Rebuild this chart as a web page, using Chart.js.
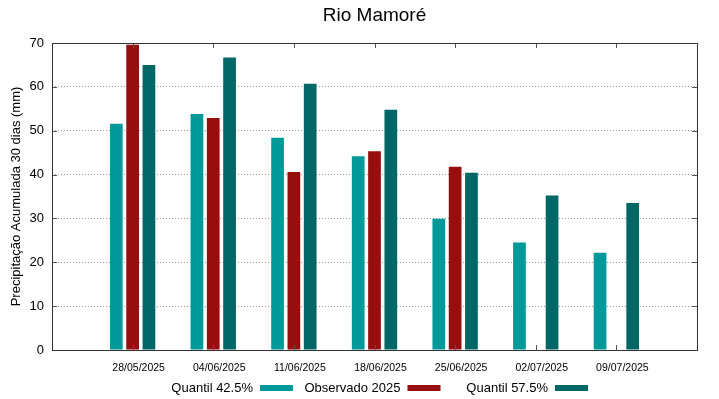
<!DOCTYPE html>
<html>
<head>
<meta charset="utf-8">
<title>Rio Mamoré</title>
<script src="https://cdn.jsdelivr.net/npm/chart.js@4/dist/chart.umd.min.js"></script>
<style>
  html, body { margin: 0; padding: 0; background: #fff; }
  canvas { display: block; }
</style>
</head>
<body>
<canvas id="grafico" width="719" height="399"></canvas>
<script>
// datos
const fechas = ["28/05/2025", "04/06/2025", "11/06/2025", "18/06/2025", "25/06/2025", "02/07/2025", "09/07/2025"];
const quantil425 = [51.6, 53.8, 48.4, 44.2, 29.9, 24.5, 22.2];
const observado2025 = [69.6, 52.9, 40.6, 45.3, 41.8, null, null];
const quantil575 = [65.0, 66.7, 60.7, 54.8, 40.4, 35.2, 33.5];
const yTicks = [0, 10, 20, 30, 40, 50, 60, 70];

// una casilla vacia a cada lado, como el rango [-1:7] del original
const pad = arr => [null, ...arr, null];
const etiquetas = ["", ...fechas, ""];

const FONT = "'Liberation Sans', Arial, sans-serif";

const marco = {
  id: "marco",
  afterDraw(chart) {
    const ctx = chart.ctx;
    const a = chart.chartArea;
    const x = chart.scales.x, y = chart.scales.y;
    ctx.save();

    // ticks hacia dentro
    ctx.strokeStyle = "#555";
    ctx.lineWidth = 1;
    for (let i = 1; i <= fechas.length; i++) {
      const px = Math.round(x.getPixelForTick(i)) + 0.5;
      ctx.beginPath();
      ctx.moveTo(px, a.top); ctx.lineTo(px, a.top + 5);
      ctx.moveTo(px, a.bottom); ctx.lineTo(px, a.bottom - 5);
      ctx.stroke();
    }
    yTicks.forEach(v => {
      const py = Math.round(y.getPixelForValue(v)) + 0.5;
      ctx.beginPath();
      ctx.moveTo(a.right, py); ctx.lineTo(a.right - 5, py);
      ctx.moveTo(a.left, py); ctx.lineTo(a.left + 5, py);
      ctx.stroke();
    });

    // caja
    ctx.strokeStyle = "#333";
    ctx.strokeRect(Math.round(a.left) + 0.5, Math.round(a.top) + 0.5,
                   Math.round(a.right - a.left), Math.round(a.bottom - a.top));

    // titulo
    ctx.fillStyle = "#000";
    ctx.font = "19px " + FONT;
    ctx.textAlign = "center";
    ctx.textBaseline = "middle";
    ctx.fillText("Rio Mamoré", (a.left + a.right) / 2, 16);

    // leyenda estilo gnuplot: texto y despues la muestra
    ctx.font = "13px " + FONT;
    ctx.textAlign = "right";
    chart.data.datasets.forEach((ds, i) => {
      const fin = 293 + 147.5 * i;
      const ini = fin - 33;
      ctx.fillStyle = "#000";
      ctx.fillText(ds.label, ini - 7, 388);
      ctx.fillStyle = ds.backgroundColor;
      ctx.fillRect(ini, 385, 33, 6);
    });
    ctx.restore();
  }
};

new Chart(document.getElementById("grafico"), {
  type: "bar",
  data: {
    labels: etiquetas,
    datasets: [
      { label: "Quantil 42.5%", data: pad(quantil425), backgroundColor: "#009999" },
      { label: "Observado 2025", data: pad(observado2025), backgroundColor: "#960e0e" },
      { label: "Quantil 57.5%", data: pad(quantil575), backgroundColor: "#006666" }
    ]
  },
  options: {
    responsive: false,
    animation: false,
    categoryPercentage: 0.607,
    barPercentage: 0.78,
    layout: { padding: { top: 43, right: 22, bottom: 0, left: 0 } },
    plugins: {
      legend: { display: false },
      title: { display: false },
      tooltip: { enabled: false }
    },
    scales: {
      x: {
        offset: false,
        grid: { display: false },
        border: { display: false },
        ticks: {
          autoSkip: false,
          maxRotation: 0,
          labelOffset: 6,
          padding: 4,
          color: "#000",
          font: { family: FONT, size: 10.5 }
        },
        afterFit(scale) { scale.height = 49; }
      },
      y: {
        min: 0,
        max: 70,
        afterBuildTicks(scale) { scale.ticks = yTicks.map(v => ({ value: v })); },
        grid: {
          color: "#999",
          lineWidth: 1,
          drawTicks: false
        },
        border: { display: false, dash: [1, 2] },
        ticks: {
          padding: 8,
          color: "#000",
          font: { family: FONT, size: 13 }
        },
        title: {
          display: true,
          text: "Precipitação Acumulada 30 dias (mm)",
          color: "#000",
          padding: { top: 9, bottom: 0 },
          font: { family: FONT, size: 13 }
        },
        afterFit(scale) { scale.width = 52; }
      }
    }
  },
  plugins: [marco]
});
</script>
</body>
</html>
